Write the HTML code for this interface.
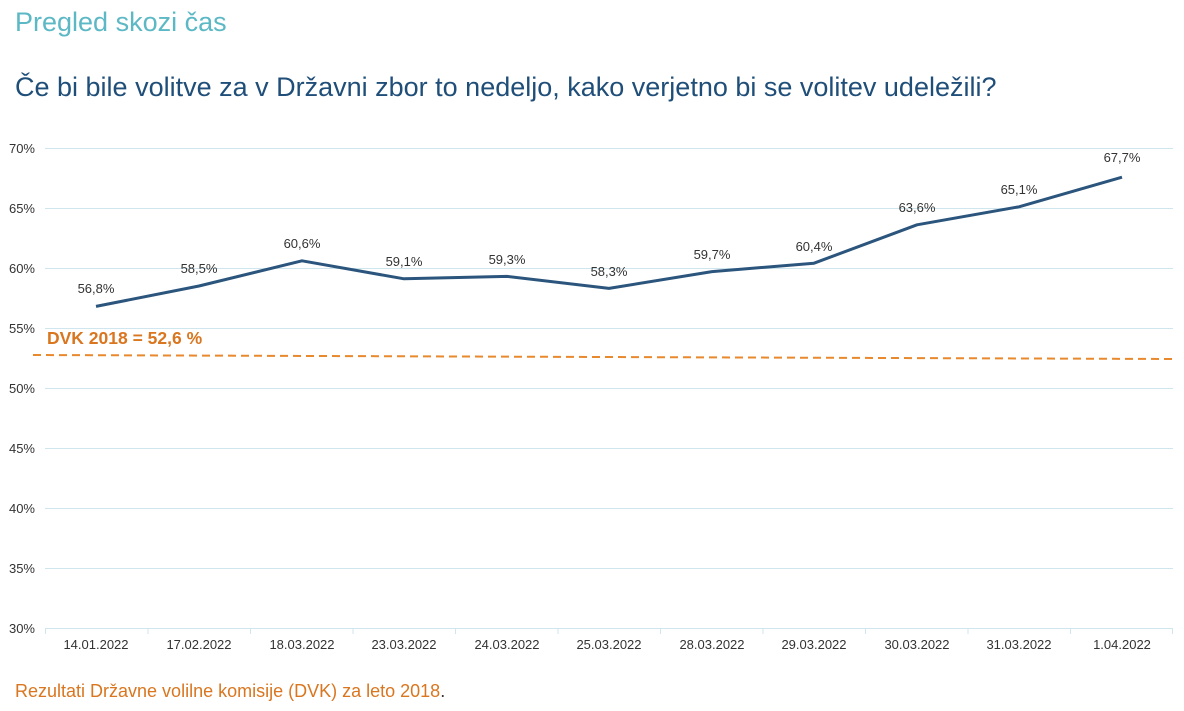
<!DOCTYPE html>
<html><head><meta charset="utf-8"><style>
body{margin:0;width:1184px;height:706px;background:#fff;overflow:hidden;font-family:"Liberation Sans",sans-serif}
</style></head><body>
<svg width="1184" height="706" xmlns="http://www.w3.org/2000/svg" font-family="Liberation Sans, sans-serif">
<text x="15" y="31" font-size="27" fill="#5bb8c4">Pregled skozi čas</text>
<text x="15" y="96" font-size="27" fill="#1f4e79">Če bi bile volitve za v Državni zbor to nedeljo, kako verjetno bi se volitev udeležili?</text>
<g stroke="#cfe6ee" stroke-width="1">
<line x1="45" x2="1173" y1="148.5" y2="148.5"/><line x1="45" x2="1173" y1="208.5" y2="208.5"/>
<line x1="45" x2="1173" y1="268.5" y2="268.5"/><line x1="45" x2="1173" y1="328.5" y2="328.5"/>
<line x1="45" x2="1173" y1="388.5" y2="388.5"/><line x1="45" x2="1173" y1="448.5" y2="448.5"/>
<line x1="45" x2="1173" y1="508.5" y2="508.5"/><line x1="45" x2="1173" y1="568.5" y2="568.5"/>
<line x1="45" x2="1173" y1="628.5" y2="628.5"/>
</g>
<g stroke="#cfe6ee">
<line x1="45.5" x2="45.5" y1="628" y2="634"/><line x1="148" x2="148" y1="628" y2="634"/><line x1="250.5" x2="250.5" y1="628" y2="634"/><line x1="353" x2="353" y1="628" y2="634"/><line x1="455.5" x2="455.5" y1="628" y2="634"/><line x1="558" x2="558" y1="628" y2="634"/><line x1="660.5" x2="660.5" y1="628" y2="634"/><line x1="763" x2="763" y1="628" y2="634"/><line x1="865.5" x2="865.5" y1="628" y2="634"/><line x1="968" x2="968" y1="628" y2="634"/><line x1="1070.5" x2="1070.5" y1="628" y2="634"/><line x1="1172.5" x2="1172.5" y1="628" y2="634"/>
</g>
<g font-size="13" fill="#333" text-anchor="end">
<text x="35" y="153">70%</text><text x="35" y="213">65%</text><text x="35" y="273">60%</text><text x="35" y="333">55%</text><text x="35" y="393">50%</text><text x="35" y="453">45%</text><text x="35" y="513">40%</text><text x="35" y="573">35%</text><text x="35" y="633">30%</text>
</g>
<g font-size="13" fill="#333" text-anchor="middle">
<text x="96" y="649">14.01.2022</text><text x="199" y="649">17.02.2022</text><text x="302" y="649">18.03.2022</text><text x="404" y="649">23.03.2022</text><text x="507" y="649">24.03.2022</text><text x="609" y="649">25.03.2022</text><text x="712" y="649">28.03.2022</text><text x="814" y="649">29.03.2022</text><text x="917" y="649">30.03.2022</text><text x="1019" y="649">31.03.2022</text><text x="1122" y="649">1.04.2022</text>
</g>
<line x1="33" y1="355" x2="1173" y2="359" stroke="#e8892e" stroke-width="2" stroke-dasharray="8,5"/>
<text x="47" y="344" font-size="17.5" font-weight="bold" fill="#d9761f">DVK 2018 = 52,6 %</text>
<polyline fill="none" stroke="#2b557c" stroke-width="3" stroke-linejoin="round" points="96,306.4 199,286 302,260.8 404,278.8 507,276.4 609,288.4 712,271.6 814,263.2 917,224.8 1019,206.8 1122,177.2"/>
<g font-size="13" fill="#333" text-anchor="middle">
<text x="96" y="293">56,8%</text><text x="199" y="273">58,5%</text><text x="302" y="248">60,6%</text><text x="404" y="266">59,1%</text><text x="507" y="264">59,3%</text><text x="609" y="276">58,3%</text><text x="712" y="259">59,7%</text><text x="814" y="251">60,4%</text><text x="917" y="212">63,6%</text><text x="1019" y="194">65,1%</text><text x="1122" y="162">67,7%</text>
</g>
<text x="15" y="697" font-size="18" fill="#d9761f">Rezultati Državne volilne komisije (DVK) za leto 2018<tspan fill="#333">.</tspan></text>
</svg>
</body></html>
